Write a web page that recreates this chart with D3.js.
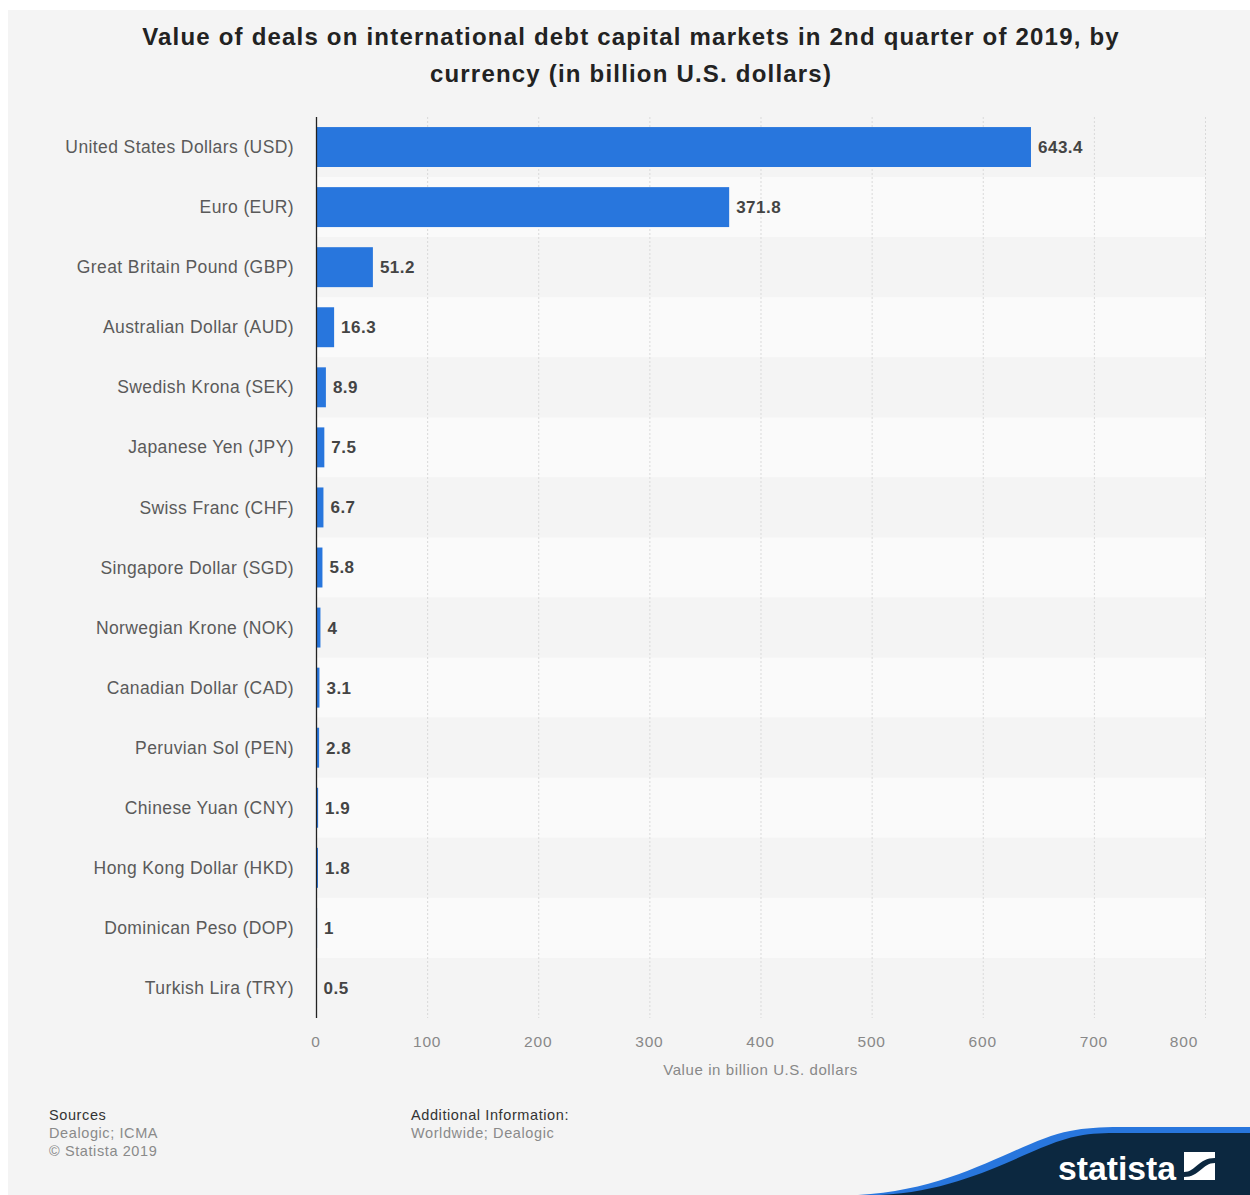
<!DOCTYPE html>
<html>
<head>
<meta charset="utf-8">
<script src="https://cdn.jsdelivr.net/npm/d3@7"></script>
<style>
  html, body { margin: 0; padding: 0; background: #ffffff; }
  svg { display: block; }
  text { font-family: "Liberation Sans", Arial, Helvetica, sans-serif; }
</style>
</head>
<body>
<svg id="chart" width="1250" height="1195"></svg>
<script>
// Deal value by currency, Q2 2019 (billion U.S. dollars)
const currencies = [
  "United States Dollars (USD)", "Euro (EUR)", "Great Britain Pound (GBP)",
  "Australian Dollar (AUD)", "Swedish Krona (SEK)", "Japanese Yen (JPY)",
  "Swiss Franc (CHF)", "Singapore Dollar (SGD)", "Norwegian Krone (NOK)",
  "Canadian Dollar (CAD)", "Peruvian Sol (PEN)", "Chinese Yuan (CNY)",
  "Hong Kong Dollar (HKD)", "Dominican Peso (DOP)", "Turkish Lira (TRY)"
];
const dealValues = [643.4, 371.8, 51.2, 16.3, 8.9, 7.5, 6.7, 5.8, 4, 3.1, 2.8, 1.9, 1.8, 1, 0.5];
const xTicks = [0, 100, 200, 300, 400, 500, 600, 700, 800];

const titleLines = [
  "Value of deals on international debt capital markets in 2nd quarter of 2019, by",
  "currency (in billion U.S. dollars)"
];
const axisTitle = "Value in billion U.S. dollars";

const svg = d3.select("#chart");
const W = 1250, H = 1195;

// panel background
svg.append("rect").attr("x", 8).attr("y", 10).attr("width", W - 8).attr("height", H - 10)
  .attr("fill", "#f4f4f4");

const plot = { left: 316, right: 1205, top: 117, bottom: 1018 };

const x = d3.scaleLinear().domain([0, 800]).range([plot.left, plot.right]);
const y = d3.scaleBand().domain(currencies).range([plot.top, plot.bottom]).paddingInner(0.335).paddingOuter(0.1675);

// alternating row bands
const step = y.step();
svg.append("g").selectAll("rect").data(currencies).join("rect")
  .attr("x", plot.left)
  .attr("y", d => y(d) - y.paddingInner() * step / 2)
  .attr("width", plot.right - plot.left)
  .attr("height", step)
  .attr("fill", (d, i) => i % 2 === 1 ? "#fafafa" : "#f4f4f4");

// dotted vertical gridlines
svg.append("g").selectAll("line").data(xTicks.filter(t => t > 0)).join("line")
  .attr("x1", d => x(d) + 0.5).attr("x2", d => x(d) + 0.5)
  .attr("y1", plot.top).attr("y2", plot.bottom)
  .attr("stroke", "#d9d9d9").attr("stroke-width", 1).attr("stroke-dasharray", "2,2");

// bars
svg.append("g").selectAll("rect").data(dealValues).join("rect")
  .attr("x", x(0))
  .attr("y", (d, i) => y(currencies[i]))
  .attr("width", d => x(d) - x(0))
  .attr("height", y.bandwidth())
  .attr("fill", "#2876dd");

// value labels
svg.append("g").selectAll("text").data(dealValues).join("text")
  .attr("x", d => x(d) + 7)
  .attr("y", (d, i) => y(currencies[i]) + y.bandwidth() / 2)
  .attr("dy", "0.35em")
  .attr("font-size", 17).attr("font-weight", "bold").attr("fill", "#444")
  .attr("letter-spacing", 0.5)
  .text(d => d3.format("~g")(d));

// y axis line
svg.append("line")
  .attr("x1", plot.left + 0.5).attr("x2", plot.left + 0.5)
  .attr("y1", plot.top).attr("y2", plot.bottom)
  .attr("stroke", "#222").attr("stroke-width", 1.3);

// category labels
svg.append("g").selectAll("text").data(currencies).join("text")
  .attr("x", 294)
  .attr("y", d => y(d) + y.bandwidth() / 2)
  .attr("dy", "0.35em")
  .attr("text-anchor", "end")
  .attr("font-size", 17.5).attr("fill", "#5a5a5a")
  .attr("letter-spacing", 0.4)
  .text(d => d);

// x tick labels
svg.append("g").selectAll("text").data(xTicks).join("text")
  .attr("x", (d, i) => i === xTicks.length - 1 ? x(d) - 21 : x(d))
  .attr("y", 1047)
  .attr("text-anchor", "middle")
  .attr("font-size", 15.5).attr("fill", "#888")
  .attr("letter-spacing", 0.8)
  .text(d => d);

svg.append("text")
  .attr("x", (plot.left + plot.right) / 2).attr("y", 1075)
  .attr("text-anchor", "middle")
  .attr("font-size", 15).attr("fill", "#888")
  .attr("letter-spacing", 0.6)
  .text(axisTitle);

// title
svg.append("g").selectAll("text").data(titleLines).join("text")
  .attr("x", 631)
  .attr("y", (d, i) => 45 + i * 37)
  .attr("text-anchor", "middle")
  .attr("font-size", 24).attr("font-weight", "bold").attr("fill", "#222")
  .attr("letter-spacing", 1.2)
  .text(d => d);

// footer
const foot = svg.append("g").attr("font-size", 14.5).attr("letter-spacing", 0.6);
foot.append("text").attr("x", 49).attr("y", 1120).attr("fill", "#333").text("Sources");
foot.append("text").attr("x", 49).attr("y", 1138).attr("fill", "#8a8a8a").text("Dealogic; ICMA");
foot.append("text").attr("x", 49).attr("y", 1156).attr("fill", "#8a8a8a").text("\u00a9 Statista 2019");
foot.append("text").attr("x", 411).attr("y", 1120).attr("fill", "#333").text("Additional Information:");
foot.append("text").attr("x", 411).attr("y", 1138).attr("fill", "#8a8a8a").text("Worldwide; Dealogic");

// brand corner
const brand = svg.append("g");
brand.append("path")
  .attr("d", "M858,1195 C960,1190 1020,1140 1070,1131 C1085,1128 1100,1127 1120,1127 L1250,1127 L1250,1195 Z")
  .attr("fill", "#2876dd");
brand.append("path")
  .attr("d", "M880,1195 C975,1190 1030,1145 1078,1136 C1092,1133 1105,1133 1120,1133 L1250,1133 L1250,1195 Z")
  .attr("fill", "#0c2840");
brand.append("text")
  .attr("x", 1058).attr("y", 1180)
  .attr("font-size", 34).attr("font-weight", "bold").attr("fill", "#ffffff")
  .attr("textLength", 118).attr("lengthAdjust", "spacingAndGlyphs")
  .text("statista");
brand.append("rect").attr("x", 1184).attr("y", 1152).attr("width", 31).attr("height", 28).attr("fill", "#ffffff");
brand.append("path")
  .attr("d", "M1184,1172 C1196,1172 1198,1158 1215,1158 L1215,1163 C1202,1163 1200,1177 1184,1177 Z")
  .attr("fill", "#0c2840");
</script>
</body>
</html>
